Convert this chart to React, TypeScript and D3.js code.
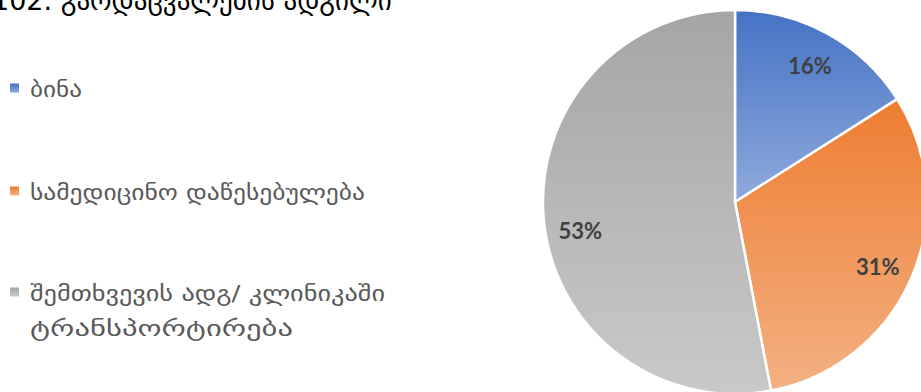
import React from "react";
import * as d3 from "d3";

const categories = ["ბინა", "სამედიცინო დაწესებულება", "შემთხვევის ადგ/ კლინიკაში ტრანსპორტირება"];
const legendLines = [["ბინა"], ["სამედიცინო დაწესებულება"], ["შემთხვევის ადგ/ კლინიკაში", "ტრანსპორტირება"]];
const legendLineWidths = [[52], [335], [355, 263]];
const values = [16, 31, 53];
const labels = ["16%", "31%", "53%"];
const labelShiftY = [0, 3, 14];
const colorsTop = ["#4472C4", "#ED7D31", "#A5A5A5"];
const colorsBottom = ["#8FAADC", "#F4B183", "#C9C9C9"];
const title = "102. გარდაცვალების ადგილი";

const W = 921;
const H = 392;

export default function App() {
  const cx = 735;
  const cy = 202;
  const r = 192;
  const pie = d3.pie<number>().sort(null).value((d) => d);
  const arcs = pie(values);
  const arc = d3.arc<d3.PieArcDatum<number>>().innerRadius(0).outerRadius(r);
  const labelArc = d3.arc<d3.PieArcDatum<number>>().innerRadius(r * 0.81).outerRadius(r * 0.81);
  const legendY = [88, 191, 292];

  return (
    <svg width={W} height={H} style={{ position: "absolute", left: 0, top: 0 }}>
      <defs>
        {colorsTop.map((c, i) => (
          <linearGradient key={i} id={`g${i}`} x1="0" y1="0" x2="0" y2="1">
            <stop offset="0" stopColor={c} />
            <stop offset="1" stopColor={colorsBottom[i]} />
          </linearGradient>
        ))}
      </defs>
      <rect width={W} height={H} fill="#fff" />
      <text x={-8} y={10} fontFamily="DejaVu Sans, sans-serif" fontSize={27} fill="#000">
        {title}
      </text>
      <g transform={`translate(${cx},${cy})`}>
        {arcs.map((a, i) => (
          <path key={i} d={arc(a) || ""} fill={`url(#g${i})`} stroke="#fff" strokeWidth={2.5} strokeLinejoin="miter" />
        ))}
        {arcs.map((a, i) => {
          const [x, y] = labelArc.centroid(a);
          return (
            <text key={i} x={x} y={y + labelShiftY[i]} textAnchor="middle" dominantBaseline="central" fontFamily="Lato, Open Sans, sans-serif" fontWeight="bold" fontSize={22} fill="#404040">
              {labels[i]}
            </text>
          );
        })}
      </g>
      {categories.map((c, i) => (
        <g key={i}>
          <rect x={10} y={legendY[i] - 4.5} width={9} height={9} fill={`url(#g${i})`} />
          {legendLines[i].map((ln, j) => (
            <text
              key={j}
              x={30}
              y={legendY[i] + 9 + j * 35}
              fontFamily="DejaVu Sans, sans-serif"
              fontSize={21}
              fill="#595959"
              textLength={legendLineWidths[i][j]}
              lengthAdjust="spacingAndGlyphs"
            >
              {ln}
            </text>
          ))}
        </g>
      ))}
    </svg>
  );
}
